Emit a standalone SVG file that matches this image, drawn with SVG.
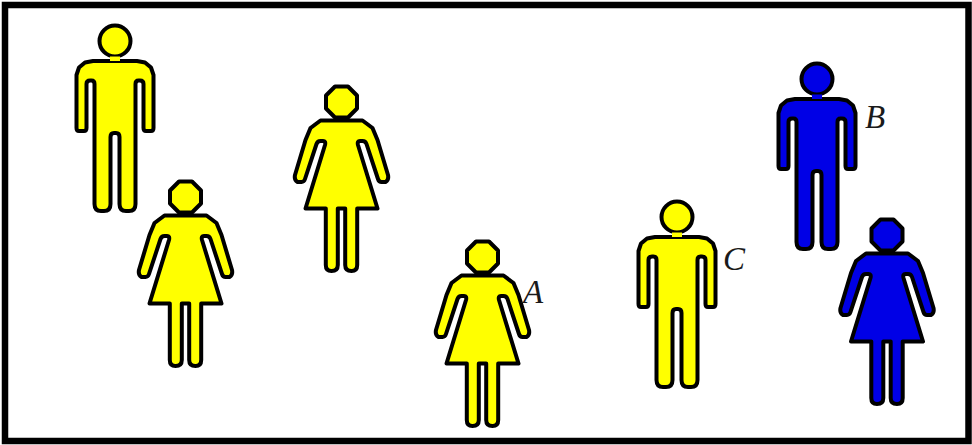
<svg xmlns="http://www.w3.org/2000/svg" width="972" height="445" viewBox="0 0 972 445">
<style>
.y{fill:#ffff00}.b{fill:#0000e6}
.fig{stroke:#000;stroke-width:4;stroke-linejoin:round}
text{font-family:"Liberation Serif",serif;font-style:italic;font-size:33px;fill:#1a1a1a}
</style>
<defs>
<g id="man">
<circle cx="0" cy="0" r="15.500"/>
<path d="M-22,20H22L30,21.500L36,26.500L38.500,34V87Q38.500,90 36,90H31Q28.500,90 28.500,87V43Q28.500,39.500 25,39.500H23.500Q20.500,39.500 20.500,43V163Q20.500,170 14,170H11Q4.500,170 4.500,163V96Q4.500,92 1,92H-1Q-4.500,92 -4.500,96V163Q-4.500,170 -11,170H-14Q-20.500,170 -20.500,163V43Q-20.500,39.500 -23.500,39.500H-25Q-28.500,39.500 -28.500,43V87Q-28.500,90 -31,90H-36Q-38.500,90 -38.500,87V34L-36,26.500L-30,21.500Z"/>
<path d="M-5,15.500V20H5V15.500" stroke="none"/>
</g>
<g id="woman">
<path d="M-6.500,-15.500H6.500L15.500,-6.500V6.500L6.500,15.500H-6.500L-15.500,6.500V-6.500Z"/>
<path d="M-21,18.500H21L31,26L36,38L46.500,73Q47.500,78 44,80H40Q37.500,80 36.500,77L25,42Q24,39 21,39H18.500Q15.500,39 16.500,43L36,106.500H15.700V163Q15.700,169 10,169Q3.700,169 3.700,163V106.500H-3.700V163Q-3.700,169 -10,169Q-15.700,169 -15.700,163V106.500H-36L-16.500,43Q-15.500,39 -18.500,39H-21Q-24,39 -25,42L-36.500,77Q-37.500,80 -40,80H-44Q-47.500,78 -46.500,73L-36,38L-31,26Z"/>
</g>
</defs>
<rect id="frame" x="5" y="5" width="963.500" height="436" fill="#fff" stroke="#000" stroke-width="6.500"/>
<g id="man1" class="fig y"><use href="#man" x="115" y="41"/></g>
<g id="man2" class="fig b"><use href="#man" x="817" y="79"/></g>
<g id="man3" class="fig y"><use href="#man" x="677" y="217"/></g>
<g id="woman1" class="fig y"><use href="#woman" x="341.500" y="102"/></g>
<g id="woman2" class="fig y"><use href="#woman" x="185.500" y="197"/></g>
<g id="woman3" class="fig y"><use href="#woman" x="482.500" y="257"/></g>
<g id="woman4" class="fig b"><use href="#woman" x="887" y="235"/></g>
<g id="connectors"></g>
<text x="523" y="303">A</text>
<text x="865" y="128">B</text>
<text x="723" y="270">C</text>
</svg>
